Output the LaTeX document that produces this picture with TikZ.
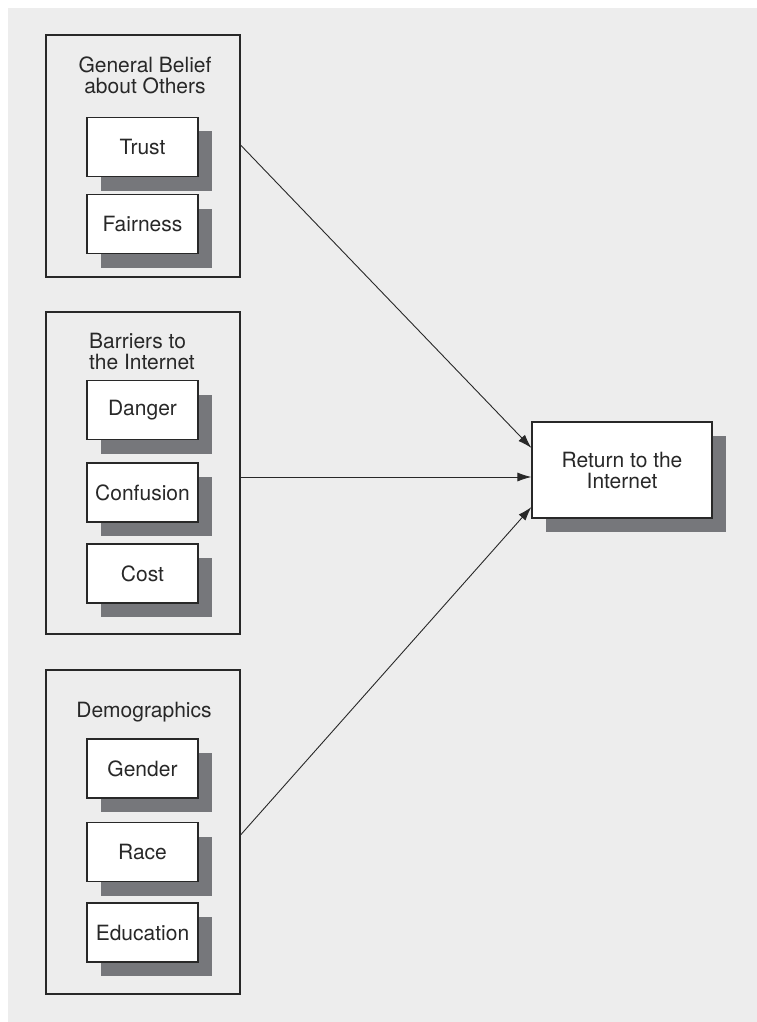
\documentclass[tikz,border=0pt]{standalone}
\usepackage{fontspec}
\setmainfont{TeX Gyre Heros}
\usetikzlibrary{arrows.meta,shadows}
\definecolor{bggray}{RGB}{237,237,237}
\definecolor{shadegray}{RGB}{118,119,123}
\definecolor{linegray}{RGB}{40,40,40}
\tikzset{
	groupbox/.style={draw=linegray, line width=1.1pt, minimum width=194pt, inner sep=0pt},
	itembox/.style={draw=linegray, line width=1.1pt, fill=white, minimum width=111pt, minimum height=59pt, inner sep=0pt,
		general shadow={fill=shadegray, shadow xshift=14pt, shadow yshift=-14pt}},
	grouptitle/.style={inner sep=0pt, text=linegray},
	link/.style={draw=linegray, line width=0.9pt, -{Latex[length=14pt,width=9pt]}}
}
\begin{document}
\begin{tikzpicture}[x=1pt, y=-1pt, font=\fontsize{21}{21}\selectfont, text=linegray]
	% Background
	\useasboundingbox (0,0) rectangle (757,1022);
	\fill[bggray] (8,8) rectangle (757,1022);
	% Group boxes
	\node[groupbox, minimum height=242pt] (belief) at (143,156) {};
	\node[groupbox, minimum height=322pt] (barriers) at (143,473) {};
	\node[groupbox, minimum height=324pt] (demog) at (143,832) {};
	% Group titles
	\node[grouptitle, align=center] (belieftitle) at (145,75) {General Belief\\about Others};
	\node[grouptitle, align=left, anchor=west] (barrierstitle) at (89,351.5) {Barriers to\\the Internet};
	\node[grouptitle] (demogtitle) at (144,712) {Demographics};
	% General belief items
	\node[itembox] (trust) at (142.5,147) {Trust};
	\node[itembox] (fair) at (142.5,224) {Fairness};
	% Barrier items
	\node[itembox] (danger) at (142.5,410) {Danger};
	\node[itembox] (confusion) at (142.5,492.5) {Confusion};
	\node[itembox] (cost) at (142.5,573.5) {Cost};
	% Demographic items
	\node[itembox] (gender) at (142.5,768.5) {Gender};
	\node[itembox] (race) at (142.5,852) {Race};
	\node[itembox] (edu) at (142.5,932.5) {Education};
	% Outcome
	\node[itembox, minimum width=180pt, minimum height=96pt, align=center] (ret) at (622,470) {Return to the\\Internet};
	% Arrows
	\draw[link] ([yshift=11pt]belief.east) -- ([yshift=22pt]ret.west);
	\draw[link] ([yshift=-4pt]barriers.east) -- ([yshift=-7pt]ret.west);
	\draw[link] ([yshift=-3pt]demog.east) -- ([yshift=-37pt]ret.west);
\end{tikzpicture}
\end{document}
